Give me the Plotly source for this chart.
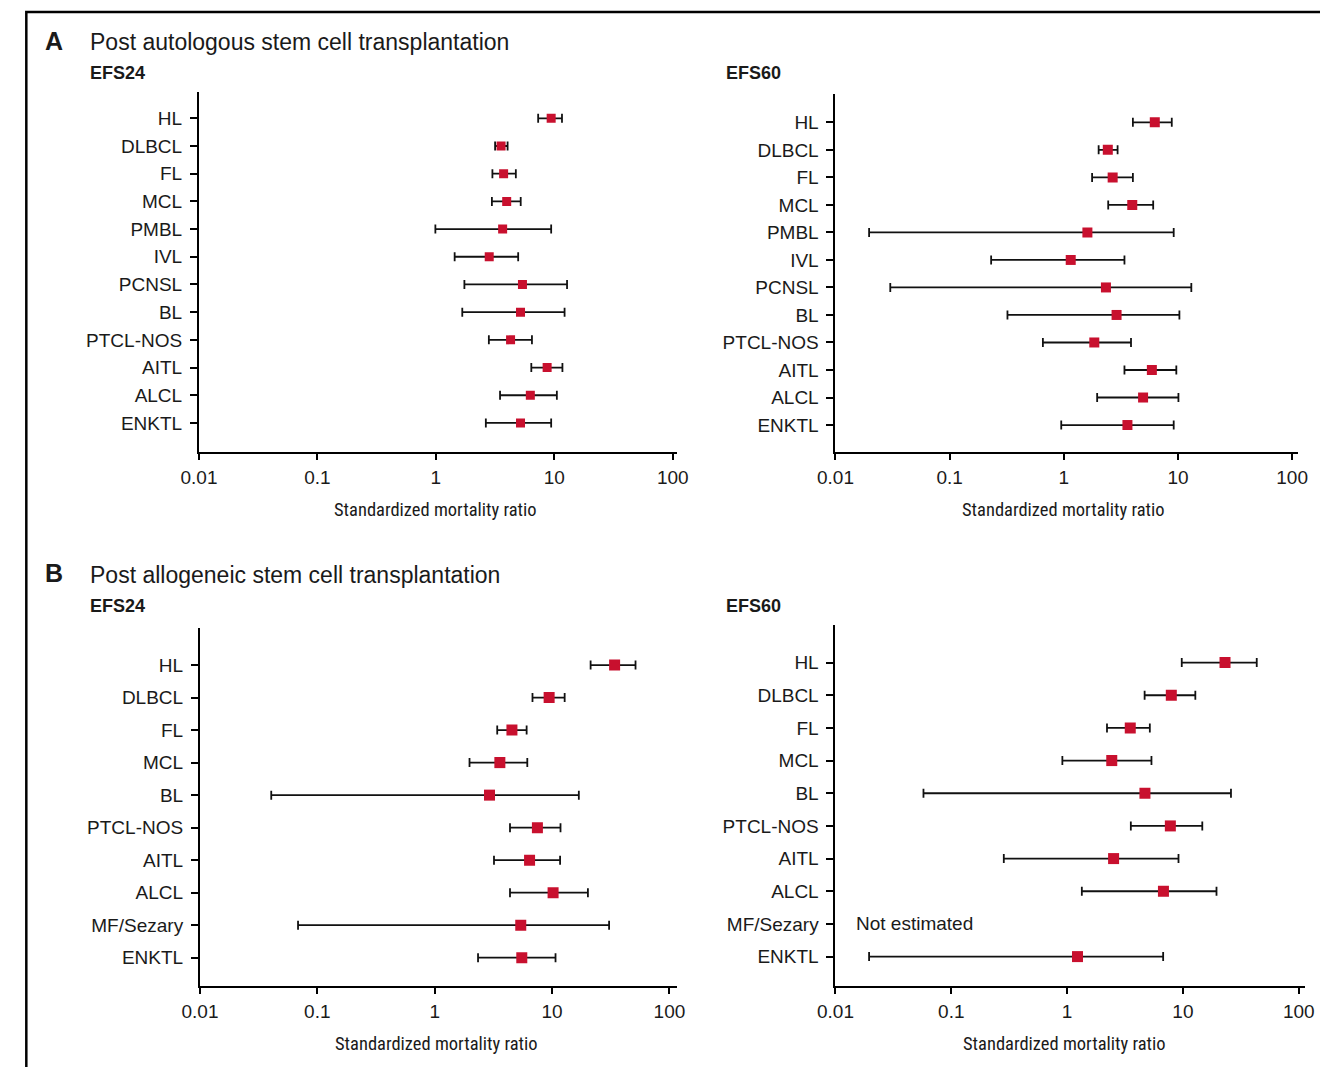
import plotly.graph_objects as go
import math

# ---------------- DATA ----------------
cats_A = ["HL", "DLBCL", "FL", "MCL", "PMBL", "IVL", "PCNSL", "BL",
          "PTCL-NOS", "AITL", "ALCL", "ENKTL"]
cats_B = ["HL", "DLBCL", "FL", "MCL", "BL", "PTCL-NOS", "AITL", "ALCL",
          "MF/Sezary", "ENKTL"]

# Panel A, EFS24
a24_smr = [9.4, 3.55, 3.73, 3.96, 3.66, 2.82, 5.38, 5.18, 4.27, 8.69, 6.27, 5.18]
a24_lo = [7.3, 3.16, 3.0, 2.97, 0.99, 1.44, 1.74, 1.67, 2.8, 6.39, 3.48, 2.64]
a24_hi = [11.6, 4.03, 4.73, 5.2, 9.4, 4.95, 12.8, 12.2, 6.47, 11.7, 10.5, 9.4]

# Panel A, EFS60
a60_smr = [6.27, 2.43, 2.68, 3.98, 1.61, 1.15, 2.34, 2.9, 1.85, 5.91, 4.95, 3.61]
a60_lo = [4.03, 2.02, 1.77, 2.45, 0.0197, 0.231, 0.0302, 0.321, 0.656, 3.4, 1.96, 0.95]
a60_hi = [8.83, 2.96, 4.03, 6.07, 9.18, 3.4, 13.1, 10.3, 3.88, 9.68, 10.1, 9.18]

# Panel B, EFS24
b24_smr = [34.1, 9.44, 4.55, 3.59, 2.93, 7.5, 6.43, 10.2, 5.41, 5.52]
b24_lo = [21.3, 6.81, 3.41, 1.98, 0.0405, 4.38, 3.2, 4.38, 0.0685, 2.34]
b24_hi = [51.4, 12.8, 6.07, 6.15, 16.9, 11.8, 11.7, 20.2, 30.6, 10.7]

# Panel B, EFS60 (MF/Sezary not estimated)
b60_smr = [23.1, 7.94, 3.51, 2.43, 4.7, 7.79, 2.52, 6.79, None, 1.23]
b60_lo = [9.77, 4.67, 2.21, 0.91, 0.0575, 3.55, 0.284, 1.34, None, 0.0195]
b60_hi = [43.4, 12.8, 5.18, 5.35, 26.0, 14.7, 9.16, 19.5, None, 6.75]

x_tickvals = [0.01, 0.1, 1, 10, 100]
x_ticktext = ["0.01", "0.1", "1", "10", "100"]
x_title = "Standardized mortality ratio"

# ---------------- LAYOUT GEOMETRY (pixels) ----------------
W, H = 1331, 1067
RED = "#C8102E"
FONT = "Liberation Sans, Arial, Helvetica, sans-serif"
NARROW = "Liberation Sans Narrow, Arial Narrow, Roboto Condensed, sans-serif"


def px2x(p):
    return p / W


def px2y(p):
    return 1 - p / H


panels = [
    # (cats, smr, lo, hi, xdom px, ydom px, xrange, yrange, msize)
    (cats_A, a24_smr, a24_lo, a24_hi, (185, 674), (92, 452), [-2, 2.038], [12.05, -0.95], 9),
    (cats_A, a60_smr, a60_lo, a60_hi, (835.7, 1309), (94, 452), [-2, 2.056], [11.98, -1.03], 10),
    (cats_B, b24_smr, b24_lo, b24_hi, (186, 674), (628, 986), [-2, 2.067], [9.87, -1.14], 11),
    (cats_B, b60_smr, b60_lo, b60_hi, (835.7, 1316), (625, 986), [-2, 2.057], [9.9, -1.15], 11),
]

fig = go.Figure()
layout = dict(
    width=W, height=H,
    margin=dict(l=0, r=0, t=0, b=0),
    paper_bgcolor="white", plot_bgcolor="white",
    showlegend=False,
    font=dict(family=FONT, size=19, color="#1a1a1a"),
)

for i, (cats, smr, lo, hi, xd, yd, xr, yr, ms) in enumerate(panels):
    n = i + 1
    xa = "x" if n == 1 else f"x{n}"
    ya = "y" if n == 1 else f"y{n}"
    plus = [None if s is None else h - s for s, h in zip(smr, hi)]
    minus = [None if s is None else s - l for s, l in zip(smr, lo)]
    fig.add_trace(go.Scatter(
        x=smr, y=cats, mode="markers",
        marker=dict(symbol="square", size=ms, color=RED),
        error_x=dict(type="data", array=plus, arrayminus=minus, symmetric=False,
                     color="#111111", thickness=1.8, width=4.5),
        xaxis=xa, yaxis=ya, hoverinfo="x+y",
    ))
    layout["xaxis" if n == 1 else f"xaxis{n}"] = dict(
        type="log", domain=[px2x(xd[0]), px2x(xd[1])], range=xr,
        anchor=ya, showline=True, linewidth=2, linecolor="black",
        ticks="outside", ticklen=6, tickwidth=2, tickcolor="black",
        tickvals=x_tickvals, ticktext=x_ticktext,
        tickfont=dict(size=19, color="#1a1a1a"), ticklabelstandoff=1,
        showgrid=False, zeroline=False,
    )
    layout["yaxis" if n == 1 else f"yaxis{n}"] = dict(
        type="category", categoryorder="array", categoryarray=cats,
        domain=[px2y(yd[1]), px2y(yd[0])], range=yr,
        anchor=xa, showline=True, linewidth=2, linecolor="black",
        ticks="outside", ticklen=7, tickwidth=2, tickcolor="black",
        tickfont=dict(size=19, color="#1a1a1a"), ticklabelstandoff=4,
        showgrid=False, zeroline=False,
    )

fig.update_layout(**layout)

ann = []


def txt(x, y, s, size, bold=False, family=FONT, xanchor="left"):
    ann.append(dict(
        xref="paper", yref="paper", x=px2x(x), y=px2y(y), text=f"<b>{s}</b>" if bold else s,
        showarrow=False, xanchor=xanchor, yanchor="middle",
        font=dict(family=family, size=size, color="#1a1a1a"),
    ))


txt(26, 41, "A", 25, bold=True)
txt(72, 42, "Post autologous stem cell transplantation", 23)
txt(72, 73, "EFS24", 18, bold=True)
txt(722, 73, "EFS60", 18, bold=True)
txt(26, 573, "B", 25, bold=True)
txt(72, 575, "Post allogeneic stem cell transplantation", 23)
txt(72, 606, "EFS24", 18, bold=True)
txt(722, 606, "EFS60", 18, bold=True)

# axis titles
txt(427, 510, x_title, 18.5, family=NARROW, xanchor="center")
txt(1069, 510, x_title, 18.5, family=NARROW, xanchor="center")
txt(428, 1044, x_title, 18.5, family=NARROW, xanchor="center")
txt(1070, 1044, x_title, 18.5, family=NARROW, xanchor="center")

# "Not estimated" note in panel B EFS60
ann.append(dict(
    xref="x4", yref="y4", x=math.log10(0.0145), y="MF/Sezary", text="Not estimated",
    showarrow=False, xanchor="left", yanchor="middle",
    font=dict(family=FONT, size=19, color="#1a1a1a"),
))

fig.update_layout(annotations=ann)

# frame (top and left rules)
fig.add_shape(type="path", xref="paper", yref="paper",
              path=f"M {px2x(8.5)},{px2y(1067)} L {px2x(8.5)},{px2y(12)} L {px2x(1331)},{px2y(12)}",
              line=dict(color="black", width=2.5))

fig.write_html("out.html")
